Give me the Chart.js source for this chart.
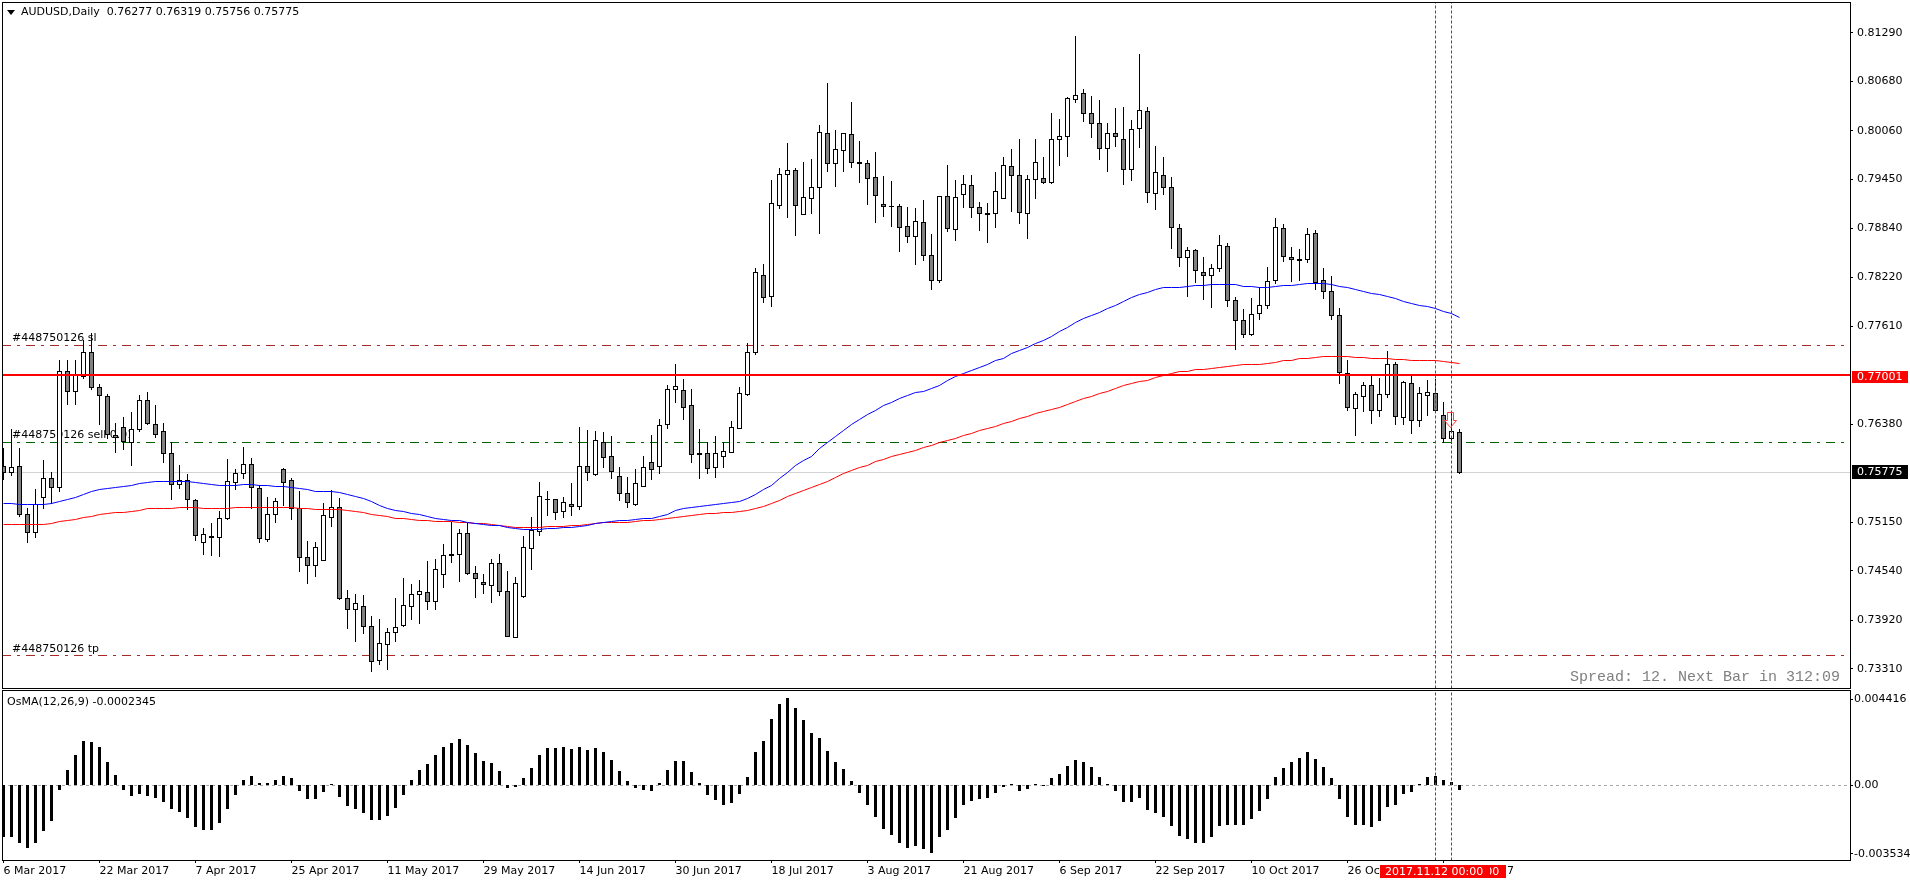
<!DOCTYPE html>
<html>
<head>
<meta charset="utf-8">
<title>AUDUSD,Daily</title>
<script src="https://cdn.jsdelivr.net/npm/chart.js@4/dist/chart.umd.js"></script>
<style>
  html, body { margin: 0; padding: 0; background: #fff; overflow: hidden; }
  canvas { position: absolute; left: 0; }
  #priceChart { top: 0; }
  #osmaChart { top: 689px; }
</style>
</head>
<body>
<canvas id="priceChart" width="1910" height="689"></canvas>
<canvas id="osmaChart" width="1910" height="195"></canvas>
<script>
const opens = [
  0.75851,0.75775,0.75851,0.75248,0.75022,0.75462,0.75700,0.75587,0.77043,0.76792,
  0.76980,0.77282,0.76842,0.76729,0.76240,0.76340,0.76152,0.76315,0.76679,0.76378,
  0.76290,0.76014,0.75625,0.75671,0.75424,0.74897,0.74972,0.74960,0.75194,0.75650,
  0.75763,0.75876,0.75575,0.74934,0.75248,0.75813,0.75675,0.75324,0.74709,0.74608,
  0.74671,0.75211,0.75336,0.74194,0.74056,0.74093,0.73842,0.73416,0.73616,0.73767,
  0.73851,0.74093,0.74244,0.74269,0.74156,0.74495,0.74746,0.74746,0.75010,0.74508,
  0.74395,0.74357,0.74633,0.74282,0.73704,0.74219,0.74821,0.75035,0.75437,0.75437,
  0.75286,0.75374,0.75349,0.75851,0.75750,0.76152,0.75976,0.75725,0.75512,0.75374,
  0.75600,0.75901,0.75851,0.76378,0.76817,0.76805,0.76616,0.76014,0.76014,0.75838,
  0.75976,0.76026,0.76328,0.76754,0.77282,0.78249,0.77985,0.79127,0.79516,0.79567,
  0.79014,0.79215,0.79353,0.80031,0.79654,0.79818,0.80018,0.79667,0.79654,0.79479,
  0.79140,0.79115,0.79115,0.78864,0.78738,0.78914,0.78500,0.78186,0.79240,0.78826,
  0.79265,0.79378,0.79102,0.79027,0.79027,0.79215,0.79617,0.79504,0.79027,0.79454,
  0.79466,0.79416,0.79956,0.79993,0.80457,0.80533,0.80282,0.80156,0.79842,0.80030,
  0.79955,0.79579,0.80093,0.80307,0.79277,0.79503,0.79353,0.78838,0.78474,0.78562,
  0.78286,0.78248,0.78336,0.78612,0.77934,0.77683,0.77507,0.77771,0.77872,0.78185,
  0.78838,0.78474,0.78449,0.78449,0.78775,0.78185,0.78047,0.77746,0.77018,0.76579,
  0.76730,0.76868,0.76554,0.76755,0.77131,0.76466,0.76893,0.76428,0.76742,0.76767,
  0.76491,0.76202,0.76277
];
const highs = [
  0.76077,0.76319,0.76077,0.75324,0.75554,0.75918,0.75775,0.77185,0.77173,0.77173,
  0.77436,0.77512,0.76880,0.76754,0.76390,0.76466,0.76529,0.76742,0.76780,0.76616,
  0.76390,0.76152,0.75867,0.75750,0.75437,0.75073,0.75135,0.75278,0.75939,0.75813,
  0.76089,0.75951,0.75604,0.75462,0.75449,0.75826,0.75700,0.75537,0.74909,0.74897,
  0.75386,0.75549,0.75449,0.74294,0.74244,0.74232,0.73968,0.73930,0.73817,0.74194,
  0.74445,0.74370,0.74420,0.74658,0.74683,0.74872,0.75148,0.75060,0.75135,0.74596,
  0.74495,0.74683,0.74746,0.74533,0.74457,0.74972,0.75211,0.75650,0.75537,0.75437,
  0.75462,0.75637,0.76340,0.76303,0.76290,0.76277,0.76227,0.75838,0.75713,0.75813,
  0.75976,0.76240,0.76441,0.76859,0.77123,0.76943,0.76817,0.76315,0.76152,0.76227,
  0.76152,0.76416,0.76842,0.77395,0.78336,0.78387,0.79433,0.79592,0.79897,0.79592,
  0.79667,0.79705,0.80131,0.80659,0.80069,0.80031,0.80420,0.79931,0.79692,0.79793,
  0.79491,0.79429,0.79140,0.79102,0.79090,0.79190,0.78763,0.79240,0.79629,0.79441,
  0.79504,0.79504,0.79165,0.79152,0.79541,0.79730,0.79830,0.79956,0.79504,0.79956,
  0.79730,0.80282,0.80207,0.80483,0.81252,0.80583,0.80499,0.80445,0.80156,0.80344,
  0.80357,0.80194,0.81022,0.80357,0.79867,0.79729,0.79478,0.78888,0.78600,0.78574,
  0.78474,0.78386,0.78750,0.78650,0.77972,0.77821,0.77959,0.78093,0.78348,0.78964,
  0.78888,0.78600,0.78574,0.78838,0.78813,0.78336,0.78236,0.77834,0.77181,0.76780,
  0.76905,0.76989,0.76956,0.77294,0.77152,0.76918,0.76989,0.76843,0.76930,0.76943,
  0.76654,0.76516,0.76319
];
const lows = [
  0.75679,0.75734,0.75227,0.74893,0.74955,0.75319,0.75386,0.75529,0.76621,0.76621,
  0.76955,0.76817,0.76370,0.76202,0.76022,0.76056,0.75859,0.76290,0.76370,0.76211,
  0.75897,0.75428,0.75570,0.75303,0.74918,0.74742,0.74725,0.74717,0.75186,0.75562,
  0.75692,0.75319,0.74893,0.74909,0.75144,0.75365,0.75177,0.74529,0.74378,0.74466,
  0.74667,0.75093,0.74181,0.73813,0.73650,0.73750,0.73273,0.73361,0.73299,0.73650,
  0.73838,0.73926,0.73876,0.74056,0.74056,0.74328,0.74642,0.74403,0.74487,0.74202,
  0.74248,0.74140,0.74227,0.73717,0.73704,0.74202,0.74558,0.74980,0.75231,0.75181,
  0.75206,0.75231,0.75307,0.75671,0.75738,0.75830,0.75696,0.75420,0.75332,0.75361,
  0.75596,0.75683,0.75755,0.76324,0.76658,0.76441,0.75897,0.75696,0.75755,0.75709,
  0.75842,0.76022,0.76324,0.76738,0.77253,0.77906,0.77855,0.79085,0.78972,0.78747,
  0.79014,0.79023,0.78772,0.79550,0.79362,0.79550,0.79604,0.79412,0.79136,0.78910,
  0.78985,0.78859,0.78546,0.78659,0.78383,0.78433,0.78069,0.78157,0.78797,0.78684,
  0.79098,0.78972,0.78809,0.78659,0.78847,0.79215,0.79048,0.78897,0.78709,0.79215,
  0.79403,0.79403,0.79625,0.79738,0.80420,0.80177,0.79976,0.79700,0.79549,0.79863,
  0.79386,0.79436,0.79855,0.79160,0.79072,0.79261,0.78583,0.78357,0.77980,0.78156,
  0.77943,0.77842,0.78294,0.77859,0.77319,0.77470,0.77491,0.77696,0.77834,0.78143,
  0.78420,0.78169,0.78181,0.78411,0.78072,0.77959,0.77696,0.76893,0.76554,0.76236,
  0.76537,0.76386,0.76474,0.76713,0.76374,0.76374,0.76265,0.76349,0.76483,0.76541,
  0.76152,0.76140,0.75756
];
const closes = [
  0.75775,0.75838,0.75248,0.75022,0.75374,0.75700,0.75587,0.77043,0.76792,0.76993,
  0.77282,0.76842,0.76742,0.76252,0.76215,0.76165,0.76315,0.76679,0.76386,0.76252,
  0.76014,0.75625,0.75671,0.75437,0.74985,0.74997,0.74960,0.75198,0.75662,0.75763,
  0.75876,0.75587,0.74947,0.75248,0.75411,0.75650,0.75324,0.74709,0.74608,0.74834,
  0.75236,0.75336,0.74194,0.74056,0.74131,0.73842,0.73403,0.73629,0.73767,0.73830,
  0.74106,0.74244,0.74282,0.74156,0.74558,0.74734,0.74734,0.75010,0.74508,0.74445,
  0.74370,0.74633,0.74282,0.73717,0.74382,0.74834,0.75047,0.75474,0.75437,0.75273,
  0.75399,0.75349,0.75851,0.75775,0.76177,0.75964,0.75788,0.75512,0.75399,0.75637,
  0.75838,0.75813,0.76365,0.76817,0.76855,0.76591,0.76001,0.76001,0.75826,0.76014,
  0.76039,0.76340,0.76767,0.77282,0.78286,0.77973,0.79152,0.79516,0.79567,0.79127,
  0.79228,0.79353,0.80044,0.79654,0.79830,0.80031,0.79667,0.79654,0.79466,0.79253,
  0.79115,0.79115,0.78851,0.78738,0.78926,0.78500,0.78186,0.79240,0.78839,0.79228,
  0.79391,0.79102,0.79027,0.79014,0.79303,0.79629,0.79504,0.79039,0.79454,0.79667,
  0.79416,0.79956,0.79993,0.80470,0.80507,0.80282,0.80156,0.79842,0.80030,0.79993,
  0.79579,0.80081,0.80319,0.79290,0.79541,0.79353,0.78851,0.78474,0.78562,0.78311,
  0.78248,0.78336,0.78625,0.77934,0.77683,0.77507,0.77759,0.77872,0.78173,0.78851,
  0.78487,0.78449,0.78436,0.78763,0.78160,0.78047,0.77746,0.77031,0.76592,0.76755,
  0.76868,0.76554,0.76755,0.77131,0.76479,0.76905,0.76428,0.76767,0.76780,0.76554,
  0.76202,0.76290,0.75775
];
// fast moving average
const blueMa = [
  0.75378,0.75382,0.75374,0.75374,0.75374,0.75374,0.75386,0.75407,0.75428,0.75457,
  0.75495,0.75529,0.75554,0.75570,0.75583,0.75596,0.75608,0.75629,0.75650,0.75658,
  0.75658,0.75658,0.75658,0.75654,0.75646,0.75633,0.75621,0.75612,0.75612,0.75616,
  0.75621,0.75621,0.75612,0.75604,0.75600,0.75596,0.75591,0.75570,0.75554,0.75537,
  0.75537,0.75537,0.75516,0.75491,0.75470,0.75445,0.75411,0.75361,0.75324,0.75298,
  0.75278,0.75257,0.75240,0.75219,0.75198,0.75177,0.75169,0.75165,0.75148,0.75135,
  0.75123,0.75114,0.75102,0.75081,0.75064,0.75052,0.75052,0.75060,0.75068,0.75073,
  0.75077,0.75081,0.75093,0.75110,0.75131,0.75148,0.75160,0.75173,0.75173,0.75181,
  0.75190,0.75198,0.75219,0.75240,0.75294,0.75319,0.75332,0.75344,0.75357,0.75370,
  0.75378,0.75391,0.75407,0.75449,0.75503,0.75554,0.75612,0.75696,0.75775,0.75867,
  0.75922,0.75980,0.76072,0.76152,0.76227,0.76303,0.76378,0.76441,0.76499,0.76554,
  0.76608,0.76654,0.76696,0.76734,0.76771,0.76796,0.76830,0.76867,0.76922,0.76972,
  0.77019,0.77056,0.77094,0.77131,0.77173,0.77207,0.77261,0.77303,0.77345,0.77391,
  0.77433,0.77483,0.77537,0.77592,0.77655,0.77700,0.77742,0.77784,0.77830,0.77872,
  0.77918,0.77968,0.78010,0.78031,0.78069,0.78094,0.78098,0.78098,0.78106,0.78118,
  0.78123,0.78131,0.78135,0.78135,0.78127,0.78114,0.78102,0.78097,0.78097,0.78110,
  0.78118,0.78123,0.78135,0.78148,0.78148,0.78148,0.78135,0.78114,0.78093,0.78068,
  0.78047,0.78026,0.78005,0.77980,0.77955,0.77922,0.77892,0.77867,0.77851,0.77834,
  0.77796,0.77767,0.77721
];
// slow moving average
const redMa = [
  0.75123,0.75123,0.75123,0.75123,0.75123,0.75123,0.75131,0.75152,0.75169,0.75186,
  0.75206,0.75223,0.75244,0.75257,0.75265,0.75273,0.75286,0.75298,0.75315,0.75324,
  0.75324,0.75324,0.75332,0.75332,0.75328,0.75324,0.75319,0.75319,0.75319,0.75328,
  0.75332,0.75332,0.75332,0.75332,0.75332,0.75332,0.75328,0.75324,0.75319,0.75311,
  0.75307,0.75307,0.75303,0.75298,0.75282,0.75269,0.75252,0.75236,0.75219,0.75198,
  0.75190,0.75181,0.75173,0.75165,0.75156,0.75152,0.75152,0.75148,0.75148,0.75139,
  0.75127,0.75119,0.75110,0.75093,0.75085,0.75085,0.75085,0.75085,0.75089,0.75093,
  0.75098,0.75106,0.75106,0.75119,0.75131,0.75144,0.75144,0.75148,0.75148,0.75156,
  0.75165,0.75173,0.75186,0.75198,0.75211,0.75219,0.75236,0.75244,0.75257,0.75261,
  0.75269,0.75269,0.75286,0.75298,0.75324,0.75349,0.75378,0.75424,0.75474,0.75512,
  0.75545,0.75583,0.75621,0.75662,0.75713,0.75759,0.75796,0.75834,0.75867,0.75909,
  0.75939,0.75968,0.75993,0.76018,0.76047,0.76085,0.76110,0.76148,0.76169,0.76198,
  0.76232,0.76261,0.76294,0.76324,0.76353,0.76386,0.76416,0.76449,0.76478,0.76508,
  0.76537,0.76566,0.76591,0.76625,0.76662,0.76704,0.76725,0.76763,0.76796,0.76826,
  0.76859,0.76893,0.76913,0.76934,0.76964,0.76993,0.77018,0.77035,0.77047,0.77060,
  0.77072,0.77081,0.77093,0.77106,0.77114,0.77123,0.77127,0.77135,0.77144,0.77160,
  0.77173,0.77185,0.77198,0.77206,0.77219,0.77231,0.77231,0.77231,0.77227,0.77219,
  0.77215,0.77206,0.77202,0.77198,0.77194,0.77190,0.77185,0.77181,0.77177,0.77173,
  0.77169,0.77160,0.77139
];
const osma = [
  -0.002644,-0.002644,-0.002953,-0.003211,-0.002953,-0.002335,-0.001820,-0.000240,0.000738,0.001511,
  0.002232,0.002198,0.001923,0.001150,0.000481,-0.000240,-0.000549,-0.000446,-0.000549,-0.000652,
  -0.000859,-0.001219,-0.001374,-0.001683,-0.002146,-0.002301,-0.002301,-0.001940,-0.001219,-0.000498,
  0.000223,0.000429,0.000103,0.000103,0.000223,0.000429,0.000326,-0.000292,-0.000704,-0.000704,
  -0.000343,0.000052,-0.000601,-0.001065,-0.001219,-0.001425,-0.001786,-0.001786,-0.001580,-0.001168,
  -0.000498,0.000223,0.000738,0.001047,0.001511,0.001923,0.002129,0.002335,0.002026,0.001614,
  0.001202,0.001099,0.000687,-0.000120,-0.000069,0.000326,0.000841,0.001511,0.001872,0.001872,
  0.001923,0.001820,0.001923,0.001769,0.001872,0.001665,0.001253,0.000687,0.000172,-0.000137,
  -0.000240,-0.000292,0.000103,0.000738,0.001202,0.001202,0.000635,0.000103,-0.000498,-0.000755,
  -0.001013,-0.000910,-0.000446,0.000378,0.001665,0.002232,0.003365,0.004138,0.004447,0.003932,
  0.003314,0.002644,0.002387,0.001717,0.001150,0.000790,0.000172,-0.000395,-0.001013,-0.001631,
  -0.002249,-0.002558,-0.002970,-0.003228,-0.003125,-0.003279,-0.003486,-0.002661,-0.002301,-0.001683,
  -0.001013,-0.000807,-0.000704,-0.000652,-0.000395,-0.000052,0.000052,-0.000292,-0.000189,0.000052,
  0,0.000326,0.000532,0.000944,0.001253,0.001150,0.000893,0.000378,0.000052,-0.000292,
  -0.000859,-0.000859,-0.000652,-0.001271,-0.001425,-0.001631,-0.002095,-0.002610,-0.002764,-0.002970,
  -0.002970,-0.002661,-0.002095,-0.002043,-0.002043,-0.002043,-0.001734,-0.001322,-0.000704,0.000378,
  0.000841,0.001150,0.001356,0.001665,0.001305,0.000893,0.000326,-0.000704,-0.001631,-0.002043,
  -0.002043,-0.002146,-0.001837,-0.001116,-0.001013,-0.000446,-0.000343,0.000052,0.000378,0.000446,
  0.000223,0.000120,-0.0002345
];

const priceTicks = [0.8129,0.8068,0.8006,0.7945,0.7884,0.7822,0.7761,0.7638,0.7515,0.7454,0.7392,0.7331];
const osmaTicks = [0.004416, 0, -0.003534];
const osmaTickLabels = ["0.004416", "0.00", "-0.003534"];
const dateTickBars = [0,12,24,36,48,60,72,84,96,108,120,132,144,156,168,180];
const dateTickLabels = ["6 Mar 2017","22 Mar 2017","7 Apr 2017","25 Apr 2017","11 May 2017","29 May 2017",
  "14 Jun 2017","30 Jun 2017","18 Jul 2017","3 Aug 2017","21 Aug 2017","6 Sep 2017","22 Sep 2017",
  "10 Oct 2017","26 Oct 2017","13 Nov 2017"];

const slLevel = 0.7737;
const sellLevel = 0.76152;
const tpLevel = 0.73478;
const alertLevel = 0.77001;
const lastPrice = 0.75775;
const crosshairBars = [179, 181];
const arrowTop = 0.76533;
const arrowTip = 0.76349;

const FONT = '11px "DejaVu Sans"';
// bar N sits at 3.5 + 8N px, so one unit on x is one bar slot
const xMin = -0.1875;
const xMax = 230.8125;
const levelEnd = 230.3;

const priceMin = 0.73068;
const priceMax = 0.81679;
const osmaMin = -0.003847;
const osmaMax = 0.004908;

function hline(y, color, width, dash, order, end) {
  return {
    type: "line",
    data: [{ x: xMin, y: y }, { x: end, y: y }],
    borderColor: color,
    borderWidth: width,
    borderDash: dash,
    pointRadius: 0,
    order: order,
  };
}

function vline(x, lo, hi) {
  return {
    type: "line",
    data: [{ x: x, y: lo }, { x: x, y: hi }],
    borderColor: "#e01010",
    borderWidth: 1,
    borderDash: [3, 2],
    pointRadius: 0,
    order: 0,
  };
}

function maLine(values, color) {
  return {
    type: "line",
    data: values.map((v, i) => ({ x: i, y: v })),
    borderColor: color,
    borderWidth: 1,
    pointRadius: 0,
    tension: 0,
    order: 2,
  };
}

// keep bars and flat lines on whole pixels so they stay sharp
const snapPixels = {
  id: "snapPixels",
  afterDatasetsUpdate(chart) {
    chart.getSortedVisibleDatasetMetas().forEach((meta) => {
      const wide = meta.controller.getDataset().borderWidth === 2;
      meta.data.forEach((el) => {
        if (meta.type === "bar") {
          const top = Math.floor(Math.min(el.y, el.base));
          const bottom = Math.ceil(Math.max(el.y, el.base));
          el.y = top;
          el.base = Math.max(bottom, top + 1);
        } else if (wide) {
          el.y = Math.round(el.y);
        } else {
          el.y = Math.floor(el.y) + 0.5;
        }
      });
    });
  },
};

const frame = {
  id: "frame",
  afterDraw(chart) {
    const a = chart.chartArea;
    const ctx = chart.ctx;
    ctx.save();
    ctx.strokeStyle = "#000";
    ctx.lineWidth = 1;
    ctx.strokeRect(a.left + 0.5, a.top + 0.5, a.right - a.left, a.bottom - a.top);
    ctx.restore();
  },
};

// order labels go under the candles
const orderLabels = {
  id: "orderLabels",
  beforeDatasetsDraw(chart) {
    const ctx = chart.ctx;
    ctx.save();
    ctx.font = FONT;
    ctx.fillStyle = "#000";
    ctx.textBaseline = "middle";
    ctx.fillText("#448750126 sl", 12, 338);
    ctx.fillText("#448750126 sell 0.01", 12, 435);
    ctx.fillText("#448750126 tp", 12, 649);
    ctx.restore();
  },
};

function priceBox(ctx, scale, value, text, color, top, bottom) {
  const y = scale.getPixelForValue(value);
  ctx.fillStyle = color;
  ctx.fillRect(1852, Math.round(y) + top, 56, bottom - top);
  ctx.fillStyle = "#fff";
  ctx.fillText(text, 1857, Math.round(y) + (top + bottom) / 2);
}

const priceOverlay = {
  id: "priceOverlay",
  afterDraw(chart) {
    const ctx = chart.ctx;
    const x = chart.scales.x;
    const y = chart.scales.y;
    ctx.save();

    // order arrow on the last closed trade
    const cx = Math.round(x.getPixelForValue(180.8)) + 0.5;
    const top = Math.round(y.getPixelForValue(arrowTop)) + 0.5;
    const tip = Math.round(y.getPixelForValue(arrowTip)) + 0.5;
    ctx.strokeStyle = "#ff4040";
    ctx.lineWidth = 1;
    ctx.beginPath();
    ctx.moveTo(cx - 3, top);
    ctx.lineTo(cx + 3, top);
    ctx.lineTo(cx + 3, tip - 7);
    ctx.lineTo(cx + 6, tip - 7);
    ctx.lineTo(cx, tip);
    ctx.lineTo(cx - 6, tip - 7);
    ctx.lineTo(cx - 3, tip - 7);
    ctx.closePath();
    ctx.stroke();

    ctx.font = FONT;
    ctx.textBaseline = "middle";
    ctx.fillStyle = "#000";
    ctx.fillText("AUDUSD,Daily  0.76277 0.76319 0.75756 0.75775", 21, 12.5);
    ctx.beginPath();
    ctx.moveTo(7, 10);
    ctx.lineTo(15, 10);
    ctx.lineTo(11, 15);
    ctx.closePath();
    ctx.fill();

    priceBox(ctx, y, alertLevel, "0.77001", "#ff0000", -4, 8);
    priceBox(ctx, y, lastPrice, "0.75775", "#000", -7, 7);

    ctx.font = '15px "Liberation Mono"';
    ctx.fillStyle = "#808080";
    ctx.textAlign = "right";
    ctx.fillText("Spread: 12. Next Bar in 312:09", 1840, 677);
    ctx.restore();
  },
};

const osmaOverlay = {
  id: "osmaOverlay",
  afterDraw(chart) {
    const ctx = chart.ctx;
    ctx.save();
    ctx.font = FONT;
    ctx.textBaseline = "middle";
    ctx.fillStyle = "#000";
    ctx.fillText("OsMA(12,26,9) -0.0002345", 7, 13);

    // crosshair time flags on the axis
    [[1396, "2017.11.14 00:00"], [1380, "2017.11.12 00:00"]].forEach(([left, text]) => {
      ctx.fillStyle = "#ff0000";
      ctx.fillRect(left, 176, 110, 13);
      ctx.fillStyle = "#fff";
      ctx.fillText(text, left + 5, 183);
    });
    ctx.restore();
  },
};

const priceDatasets = [
  hline(slLevel, "#a52a2a", 1, [9, 6, 3, 6], 6, levelEnd),
  hline(sellLevel, "#006400", 1, [9, 6, 3, 6], 6, levelEnd),
  hline(tpLevel, "#a52a2a", 1, [9, 6, 3, 6], 6, levelEnd),
  hline(lastPrice, "#d3d3d3", 1, [], 6, xMax),
  {
    type: "bar",
    data: highs.map((h, i) => ({ x: i, y: [lows[i], h] })),
    backgroundColor: "#000",
    barThickness: 1,
    grouped: false,
    inflateAmount: 0,
    order: 4,
  },
  {
    type: "bar",
    data: opens.map((o, i) => ({ x: i, y: [o, closes[i]] })),
    backgroundColor: opens.map((o, i) => (closes[i] >= o ? "#fff" : "#808080")),
    borderColor: "#000",
    borderWidth: 1,
    borderSkipped: false,
    barThickness: 5,
    grouped: false,
    inflateAmount: 0,
    order: 3,
  },
  maLine(blueMa, "#0000ff"),
  maLine(redMa, "#ff0000"),
  hline(alertLevel, "#ff0000", 2, [], 1, xMax),
];
crosshairBars.forEach((b) => priceDatasets.push(vline(b, priceMin, priceMax)));

new Chart(document.getElementById("priceChart"), {
  data: { datasets: priceDatasets },
  plugins: [snapPixels, orderLabels, frame, priceOverlay],
  options: {
    responsive: false,
    animation: false,
    events: [],
    layout: { padding: { left: 2, top: 2, right: 0, bottom: 1 } },
    plugins: { legend: { display: false }, tooltip: { enabled: false } },
    scales: {
      x: { type: "linear", min: xMin, max: xMax, offset: false, display: false },
      y: {
        position: "right",
        min: priceMin,
        max: priceMax,
        afterFit(s) { s.width = 60; s.paddingTop = 0; s.paddingBottom = 0; },
        afterBuildTicks(s) { s.ticks = priceTicks.map((v) => ({ value: v })); },
        border: { display: false },
        grid: { drawOnChartArea: false, tickLength: 3, tickColor: "#000" },
        ticks: {
          autoSkip: false,
          padding: 4,
          color: "#000",
          font: { family: "DejaVu Sans", size: 11 },
          callback: (v) => v.toFixed(5),
        },
      },
    },
  },
});

const osmaDatasets = [
  hline(0, "#a8a8a8", 1, [3, 3], 6, xMax),
  {
    type: "bar",
    data: osma.map((v, i) => ({ x: i, y: v })),
    backgroundColor: "#000",
    barThickness: 3,
    grouped: false,
    inflateAmount: 0,
    order: 3,
  },
];
crosshairBars.forEach((b) => osmaDatasets.push(vline(b, osmaMin, osmaMax)));

new Chart(document.getElementById("osmaChart"), {
  data: { datasets: osmaDatasets },
  plugins: [snapPixels, frame, osmaOverlay],
  options: {
    responsive: false,
    animation: false,
    events: [],
    layout: { padding: { left: 2, top: 1, right: 0, bottom: 0 } },
    plugins: { legend: { display: false }, tooltip: { enabled: false } },
    scales: {
      x: {
        type: "linear",
        min: xMin,
        max: xMax,
        offset: false,
        afterFit(s) { s.height = 24; s.paddingLeft = 0; s.paddingRight = 0; },
        afterBuildTicks(s) { s.ticks = dateTickBars.map((v) => ({ value: v })); },
        border: { display: false },
        grid: { offset: false, drawOnChartArea: false, tickLength: 3, tickColor: "#000" },
        ticks: {
          autoSkip: false,
          maxRotation: 0,
          align: "start",
          padding: 2,
          color: "#000",
          font: { family: "DejaVu Sans", size: 11 },
          callback: (v, i) => dateTickLabels[i],
        },
      },
      y: {
        position: "right",
        min: osmaMin,
        max: osmaMax,
        afterFit(s) { s.width = 60; s.paddingTop = 0; s.paddingBottom = 0; },
        afterBuildTicks(s) { s.ticks = osmaTicks.map((v) => ({ value: v })); },
        border: { display: false },
        grid: { drawOnChartArea: false, tickLength: 3, tickColor: "#000" },
        ticks: {
          autoSkip: false,
          padding: 1,
          color: "#000",
          font: { family: "DejaVu Sans", size: 11 },
          callback: (v, i) => osmaTickLabels[i],
        },
      },
    },
  },
});
</script>
</body>
</html>
